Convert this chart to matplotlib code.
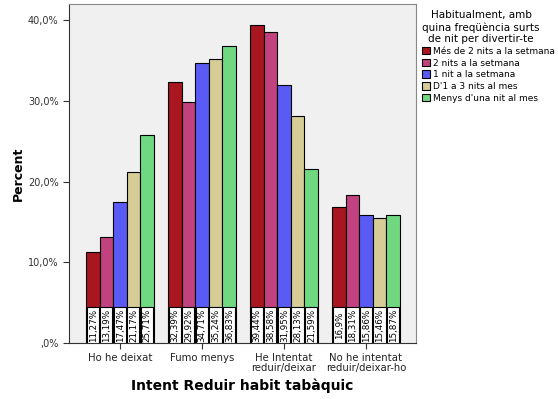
import matplotlib.pyplot as plt
import numpy as np

categories = ["Ho he deixat", "Fumo menys", "He Intentat\nreduir/deixar", "No he intentat\nreduir/deixar-ho"]
series = ["Més de 2 nits a la setmana", "2 nits a la setmana", "1 nit a la setmana",
          "D'1 a 3 nits al mes", "Menys d'una nit al mes"]
values = [
    [11.27, 32.39, 39.44, 16.9],
    [13.19, 29.92, 38.58, 18.31],
    [17.47, 34.71, 31.95, 15.86],
    [21.17, 35.24, 28.13, 15.46],
    [25.71, 36.83, 21.59, 15.87],
]
labels = [
    ["11,27%", "32,39%", "39,44%", "16,9%"],
    ["13,19%", "29,92%", "38,58%", "18,31%"],
    ["17,47%", "34,71%", "31,95%", "15,86%"],
    ["21,17%", "35,24%", "28,13%", "15,46%"],
    ["25,71%", "36,83%", "21,59%", "15,87%"],
]
colors = ["#a8161f", "#c2417f", "#5a5af5", "#d5cc96", "#6fd880"]

fig = plt.figure(figsize=(5.58, 3.99), dpi=100)
ax = fig.add_axes([69/558, 1 - 343/399, (416-69)/558, (343-4)/399])
ax.set_facecolor("#f0f0f0")

x = np.arange(len(categories))
w = 0.165
for i, (vals, c) in enumerate(zip(values, colors)):
    pos = x + (i - 2) * w
    ax.bar(pos, vals, w, color=c, edgecolor="black", linewidth=0.8, label=series[i], zorder=2)
    for p, lab in zip(pos, labels[i]):
        ax.bar(p, 4.4, w * 0.9, color="white", edgecolor="black", linewidth=0.8, zorder=3)
        ax.text(p + 0.005, 2.2, lab, rotation=90, ha="center", va="center",
                fontsize=6.3, zorder=4)

ax.set_xlim(-0.62, 3.61)
ax.set_ylim(0, 42)
ax.set_yticks([0, 10, 20, 30, 40])
ax.set_yticklabels([",0%", "10,0%", "20,0%", "30,0%", "40,0%"], fontsize=7, color="#333333")
ax.set_xticks(x)
ax.set_xticklabels(categories, fontsize=7.3, color="#222222", linespacing=1.0)
ax.tick_params(length=4, width=0.8, color="#333333")
for s in ["top", "right"]:
    ax.spines[s].set_color("#888888")
for s in ["left", "bottom"]:
    ax.spines[s].set_color("#333333")
ax.set_ylabel("Percent", fontsize=9, fontweight="bold", labelpad=2)
ax.set_xlabel("Intent Reduir habit tabàquic", fontsize=10, fontweight="bold", labelpad=4)

leg = ax.legend(loc="upper left", bbox_to_anchor=(1.0, 1.0), frameon=False,
                fontsize=6.5, title="Habitualment, amb\nquina freqüència surts\nde nit per divertir-te",
                title_fontsize=7.5, handlelength=0.9, handleheight=0.9,
                handletextpad=0.3, labelspacing=0.3, borderaxespad=0.3)
leg._legend_box.align = "left"
leg.get_title().set_ha("center")
leg.get_title().set_multialignment("center")

fig.savefig("out.png", dpi=100)
